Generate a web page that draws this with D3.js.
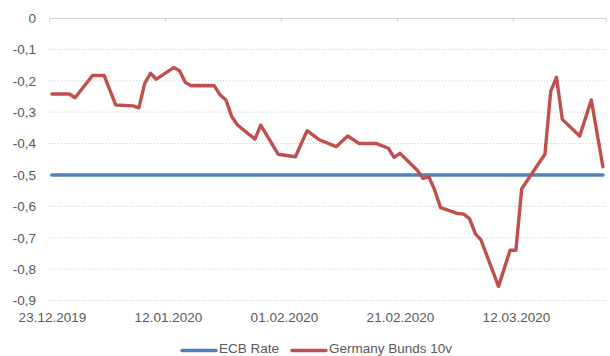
<!DOCTYPE html>
<html>
<head>
<meta charset="utf-8">
<script src="https://cdn.jsdelivr.net/npm/d3@7"></script>
<style>
  html, body { margin: 0; padding: 0; background: #fff; }
  svg { display: block; font-family: "Liberation Sans", Arial, sans-serif; }
</style>
</head>
<body>
<svg id="chart" width="610" height="356"></svg>
<script>
// Daily observations (dd.mm.yyyy) and yields in percent
const bundDates = [
  "23.12.2019","26.12.2019","27.12.2019","30.12.2019","31.12.2019","01.01.2020","02.01.2020","03.01.2020",
  "06.01.2020","07.01.2020","08.01.2020","09.01.2020","10.01.2020","13.01.2020","14.01.2020","15.01.2020",
  "16.01.2020","17.01.2020","20.01.2020","21.01.2020","22.01.2020","23.01.2020","24.01.2020","27.01.2020",
  "28.01.2020","31.01.2020","03.02.2020","04.02.2020","05.02.2020","07.02.2020","10.02.2020","12.02.2020",
  "14.02.2020","17.02.2020","19.02.2020","20.02.2020","21.02.2020","24.02.2020","25.02.2020","26.02.2020",
  "27.02.2020","28.02.2020","02.03.2020","03.03.2020","04.03.2020","05.03.2020","06.03.2020","09.03.2020",
  "11.03.2020","12.03.2020","13.03.2020","17.03.2020","18.03.2020","19.03.2020","20.03.2020","23.03.2020",
  "25.03.2020","27.03.2020"
];
const bundValues = [
  -0.242,-0.242,-0.254,-0.183,-0.183,-0.183,-0.230,-0.277,
  -0.280,-0.286,-0.208,-0.176,-0.195,-0.158,-0.168,-0.205,
  -0.216,-0.215,-0.216,-0.245,-0.261,-0.314,-0.341,-0.386,
  -0.341,-0.434,-0.442,-0.400,-0.359,-0.387,-0.410,-0.376,
  -0.400,-0.400,-0.415,-0.444,-0.431,-0.485,-0.511,-0.506,
  -0.548,-0.604,-0.623,-0.625,-0.639,-0.687,-0.708,-0.855,
  -0.740,-0.740,-0.544,-0.434,-0.234,-0.189,-0.323,-0.376,
  -0.261,-0.474
];
const ecbDates = ["23.12.2019", "27.03.2020"];
const ecbValues = [-0.5, -0.5];

const dateTicks = ["23.12.2019","12.01.2020","01.02.2020","21.02.2020","12.03.2020"];
const yTicks = [0,-0.1,-0.2,-0.3,-0.4,-0.5,-0.6,-0.7,-0.8,-0.9];
const seriesNames = ["ECB Rate", "Germany Bunds 10v"];
const seriesColors = ["#4F81BD", "#C0504D"];

const parse = d3.timeParse("%d.%m.%Y");
const fmtTick = d3.timeFormat("%d.%m.%Y");
const mid = d => d3.timeHour.offset(parse(d), 12);   // centre of a day slot

const svg = d3.select("#chart");
const x = d3.scaleTime()
  .domain([parse("23.12.2019"), parse("28.03.2020")])
  .range([49, 605.8]);
const y = d3.scaleLinear().domain([0, -0.9]).range([18, 300.5]);

// dotted horizontal gridlines
svg.append("g")
  .selectAll("line")
  .data(yTicks.filter(v => v !== 0))
  .join("line")
  .attr("x1", x.range()[0]).attr("x2", x.range()[1])
  .attr("y1", d => y(d)).attr("y2", d => y(d))
  .attr("stroke", "#cfcfcf")
  .attr("stroke-width", 1)
  .attr("stroke-dasharray", "1.2,1.8");

// y axis labels
const yAxis = svg.append("g")
  .attr("transform", "translate(36,0)")
  .call(d3.axisLeft(y).tickValues(yTicks).tickSize(0).tickPadding(0)
    .tickFormat(d => d === 0 ? "0" : d3.format(".1f")(d).replace(".", ",").replace("−", "-")));
yAxis.select(".domain").remove();
yAxis.selectAll("text").attr("fill", "#595959").style("font-size", "13.5px")
  .attr("font-family", "Liberation Sans, Arial, sans-serif");

// horizontal axis line at zero with tick marks
const xAxis = svg.append("g")
  .attr("transform", `translate(0,${y(0)})`)
  .call(d3.axisBottom(x)
    .tickValues(dateTicks.map(parse).concat([parse("28.03.2020")]))
    .tickSize(4).tickSizeOuter(0).tickFormat(""));
xAxis.select(".domain").attr("stroke", "#d4d4d4");
xAxis.selectAll(".tick line").attr("stroke", "#d4d4d4");

// date labels along the bottom
const xLabels = svg.append("g")
  .attr("transform", "translate(0,312)")
  .call(d3.axisBottom(x).tickValues(dateTicks.map(mid)).tickSize(0).tickPadding(0)
    .tickFormat(d => fmtTick(d)));
xLabels.select(".domain").remove();
xLabels.selectAll("text").attr("fill", "#595959").style("font-size", "13.5px")
  .attr("font-family", "Liberation Sans, Arial, sans-serif");

// series lines
const line = d3.line().x(d => x(mid(d.date))).y(d => y(d.value));
const ecb = ecbDates.map((d, i) => ({ date: d, value: ecbValues[i] }));
const bund = bundDates.map((d, i) => ({ date: d, value: bundValues[i] }));

svg.append("path").datum(ecb)
  .attr("d", line).attr("fill", "none")
  .attr("stroke", seriesColors[0]).attr("stroke-width", 3.4)
  .attr("stroke-linecap", "round");
svg.append("path").datum(bund)
  .attr("d", line).attr("fill", "none")
  .attr("stroke", seriesColors[1]).attr("stroke-width", 3.4)
  .attr("stroke-linejoin", "round").attr("stroke-linecap", "round");

// legend
const legendX = [182, 292];
const legend = svg.append("g");
seriesNames.forEach((name, i) => {
  legend.append("line")
    .attr("x1", legendX[i]).attr("x2", legendX[i] + 34)
    .attr("y1", 350.5).attr("y2", 350.5)
    .attr("stroke", seriesColors[i]).attr("stroke-width", 3.4)
    .attr("stroke-linecap", "round");
  legend.append("text")
    .attr("x", legendX[i] + 37).attr("y", 353)
    .attr("fill", "#595959").style("font-size", "13.5px")
    .text(name);
});
</script>
</body>
</html>
